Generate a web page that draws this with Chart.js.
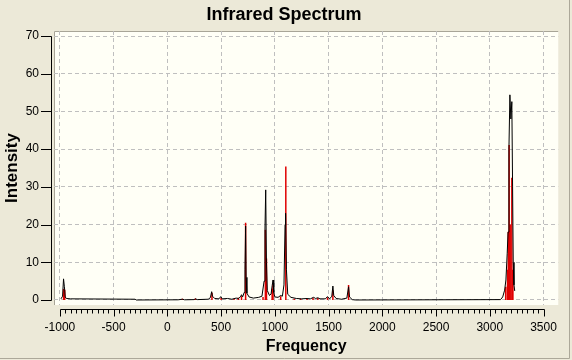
<!DOCTYPE html>
<html>
<head>
<meta charset="utf-8">
<script src="https://cdn.jsdelivr.net/npm/chart.js@4"></script>
<style>
  html, body { margin: 0; padding: 0; background: #ECE9D8; }
  canvas { display: block; }
</style>
</head>
<body>
<canvas id="irChart" width="572" height="360"></canvas>
<script>
// stick spectrum (red)
const stickFreq = [-965, -955, 140, 260, 415, 500, 620, 660, 690, 728, 890, 912, 922, 975, 983, 1054,
                   1102, 1180, 1240, 1300, 1355, 1400, 1490, 1540, 1686,
                   3148, 3165, 3172, 3180, 3190, 3205, 3215];
const stickInt  = [2.9, 2.7, 0.3, 0.4, 1.9, 0.6, 0.3, 0.6, 1.0, 20.5, 0.8, 18.6, 11.0, 3.0, 4.2, 1.0,
                   35.4, 0.3, 0.3, 0.3, 0.6, 0.5, 0.7, 2.6, 4.0,
                   3.5, 8.0, 18.1, 41.1, 20.0, 32.4, 8.0];

// broadened curve (black)
const curveX = [-990, -975, -966, -958, -950, -940, -900, -300, -290, 100, 140, 160, 250, 260, 280,
                380, 400, 412, 420, 440, 480, 497, 510, 560, 600, 640, 660, 680, 690, 700,
                715, 722, 728, 733, 740, 760, 800, 850, 880, 900, 908, 915, 922, 930, 950,
                965, 975, 983, 990, 1000, 1030, 1054, 1070, 1085, 1095, 1100, 1108, 1120, 1150,
                1200, 1250, 1300, 1330, 1360, 1380, 1400, 1420, 1470, 1490, 1510, 1530, 1540, 1548,
                1570, 1620, 1670, 1686, 1695, 1720, 1750, 3100, 3120, 3138, 3150, 3162, 3170,
                3178, 3187, 3196, 3205, 3212, 3218, 3225, 3232];
const curveY = [0.3, 1.0, 5.6, 3.5, 0.8, 0.4, 0.3, 0.2, 0.0, 0.05, 0.2, 0.05, 0.1, 0.3, 0.1,
                0.2, 0.6, 2.2, 1.0, 0.4, 0.3, 0.9, 0.3, 0.4, 0.2, 0.5, 0.4, 0.8, 1.4, 0.8,
                2.0, 8.0, 19.6, 6.0, 1.8, 0.8, 0.5, 0.7, 1.0, 5.0, 18.6, 29.2, 10.0, 2.5, 1.2,
                1.6, 3.8, 5.3, 2.0, 0.8, 0.7, 1.2, 1.0, 4.0, 20.0, 23.0, 8.0, 1.5, 0.7,
                0.4, 0.3, 0.4, 0.3, 0.7, 0.4, 0.6, 0.3, 0.3, 0.9, 0.3, 1.0, 3.7, 1.2,
                0.4, 0.2, 0.5, 3.5, 0.8, 0.1, 0.0, 0.1, 0.8, 2.6, 5.3, 12.4, 18.0,
                40.0, 54.4, 48.0, 52.6, 30.0, 10.0, 4.0, 2.4];

const xTicks = [-1000, -500, 0, 500, 1000, 1500, 2000, 2500, 3000, 3500];
const yTicks = [0, 10, 20, 30, 40, 50, 60, 70];

const FONT = '"Liberation Sans", Arial, sans-serif';

const stickData = [];
stickFreq.forEach((f, i) => {
  stickData.push({x: f, y: 0}, {x: f, y: stickInt[i]}, {x: f, y: null});
});
const curveData = curveX.map((x, i) => ({x: x, y: curveY[i]}));

// background, plot frame, axis lines and tick marks
const framePlugin = {
  id: 'frame',
  beforeDraw(chart) {
    const ctx = chart.ctx;
    const a = chart.chartArea;
    ctx.save();
    ctx.fillStyle = '#ECE9D8';
    ctx.fillRect(0, 0, chart.width, chart.height);
    ctx.fillStyle = '#FFFFF6';
    ctx.fillRect(a.left, a.top, a.right - a.left, a.bottom - a.top);
    ctx.strokeStyle = '#A8A597';
    ctx.lineWidth = 1;
    ctx.beginPath();
    ctx.moveTo(a.left + 0.5, a.bottom);
    ctx.lineTo(a.left + 0.5, a.top + 0.5);
    ctx.lineTo(a.right, a.top + 0.5);
    ctx.stroke();
    // outer border
    ctx.strokeStyle = '#ACA899';
    ctx.beginPath();
    ctx.moveTo(569.5, 0);
    ctx.lineTo(569.5, 358.5);
    ctx.lineTo(0, 358.5);
    ctx.stroke();
    ctx.restore();
  },
  afterDraw(chart) {
    const ctx = chart.ctx;
    const xs = chart.scales.x;
    const ys = chart.scales.y;
    ctx.save();
    ctx.strokeStyle = '#000';
    ctx.lineWidth = 1;
    ctx.beginPath();
    // y axis
    const ax = 51.5;
    ctx.moveTo(ax, Math.round(ys.getPixelForValue(70)) + 0.5);
    ctx.lineTo(ax, Math.round(ys.getPixelForValue(0)) + 0.5);
    yTicks.forEach(v => {
      const py = Math.round(ys.getPixelForValue(v)) + 0.5;
      ctx.moveTo(41, py);
      ctx.lineTo(ax, py);
    });
    // x axis
    const ay = 309.5;
    ctx.moveTo(Math.round(xs.getPixelForValue(-1000)) + 0.5, ay);
    ctx.lineTo(Math.round(xs.getPixelForValue(3500)) + 0.5, ay);
    for (let v = -1000; v <= 3500; v += 50) {
      const px = Math.round(xs.getPixelForValue(v)) + 0.5;
      ctx.moveTo(px, ay);
      ctx.lineTo(px, ay + (v % 500 === 0 ? 7 : 4));
    }
    ctx.stroke();
    ctx.restore();
  }
};

const ctx = document.getElementById('irChart').getContext('2d');
new Chart(ctx, {
  type: 'scatter',
  data: {
    datasets: [
      {
        label: 'Spectrum',
        data: curveData,
        showLine: true,
        borderColor: '#000000',
        borderWidth: 1,
        pointRadius: 0,
        tension: 0,
        order: 0
      },
      {
        label: 'Sticks',
        data: stickData,
        showLine: true,
        spanGaps: false,
        borderColor: '#E00000',
        borderWidth: 1.5,
        pointRadius: 0,
        order: 1
      }
    ]
  },
  options: {
    responsive: false,
    animation: false,
    devicePixelRatio: 1,
    layout: { padding: { left: 0, right: 4, top: 0, bottom: 0 } },
    plugins: {
      legend: { display: false },
      tooltip: { enabled: false },
      title: {
        display: true,
        text: 'Infrared Spectrum',
        color: '#000',
        font: { family: FONT, size: 18, weight: 'bold' },
        padding: { top: 4, bottom: 5.4 }
      }
    },
    scales: {
      x: {
        type: 'linear',
        min: -1054.8,
        max: 3636.9,
        afterFit(scale) { scale.height = 55; },
        afterBuildTicks(scale) { scale.ticks = xTicks.map(v => ({value: v})); },
        border: { display: false, dash: [4, 3] },
        grid: { color: '#BFBFBF', drawTicks: false },
        ticks: {
          autoSkip: false, maxRotation: 0, padding: 15, color: '#000',
          font: { family: FONT, size: 12 },
          callback: v => String(v)
        },
        title: {
          display: true, text: 'Frequency', color: '#000',
          font: { family: FONT, size: 16, weight: 'bold' },
          padding: { top: 0, bottom: 4 }
        }
      },
      y: {
        type: 'linear',
        min: -1.33,
        max: 71.33,
        afterFit(scale) { scale.width = 54; },
        afterBuildTicks(scale) { scale.ticks = yTicks.map(v => ({value: v})); },
        border: { display: false, dash: [4, 3] },
        grid: { color: '#BFBFBF', drawTicks: false },
        ticks: {
          padding: 15, color: '#000',
          font: { family: FONT, size: 12 },
          callback: v => String(v)
        },
        title: {
          display: true, text: 'Intensity', color: '#000',
          font: { family: FONT, size: 17, weight: 'bold' },
          padding: { top: 2, bottom: 0 }
        }
      }
    }
  },
  plugins: [framePlugin]
});
</script>
</body>
</html>
